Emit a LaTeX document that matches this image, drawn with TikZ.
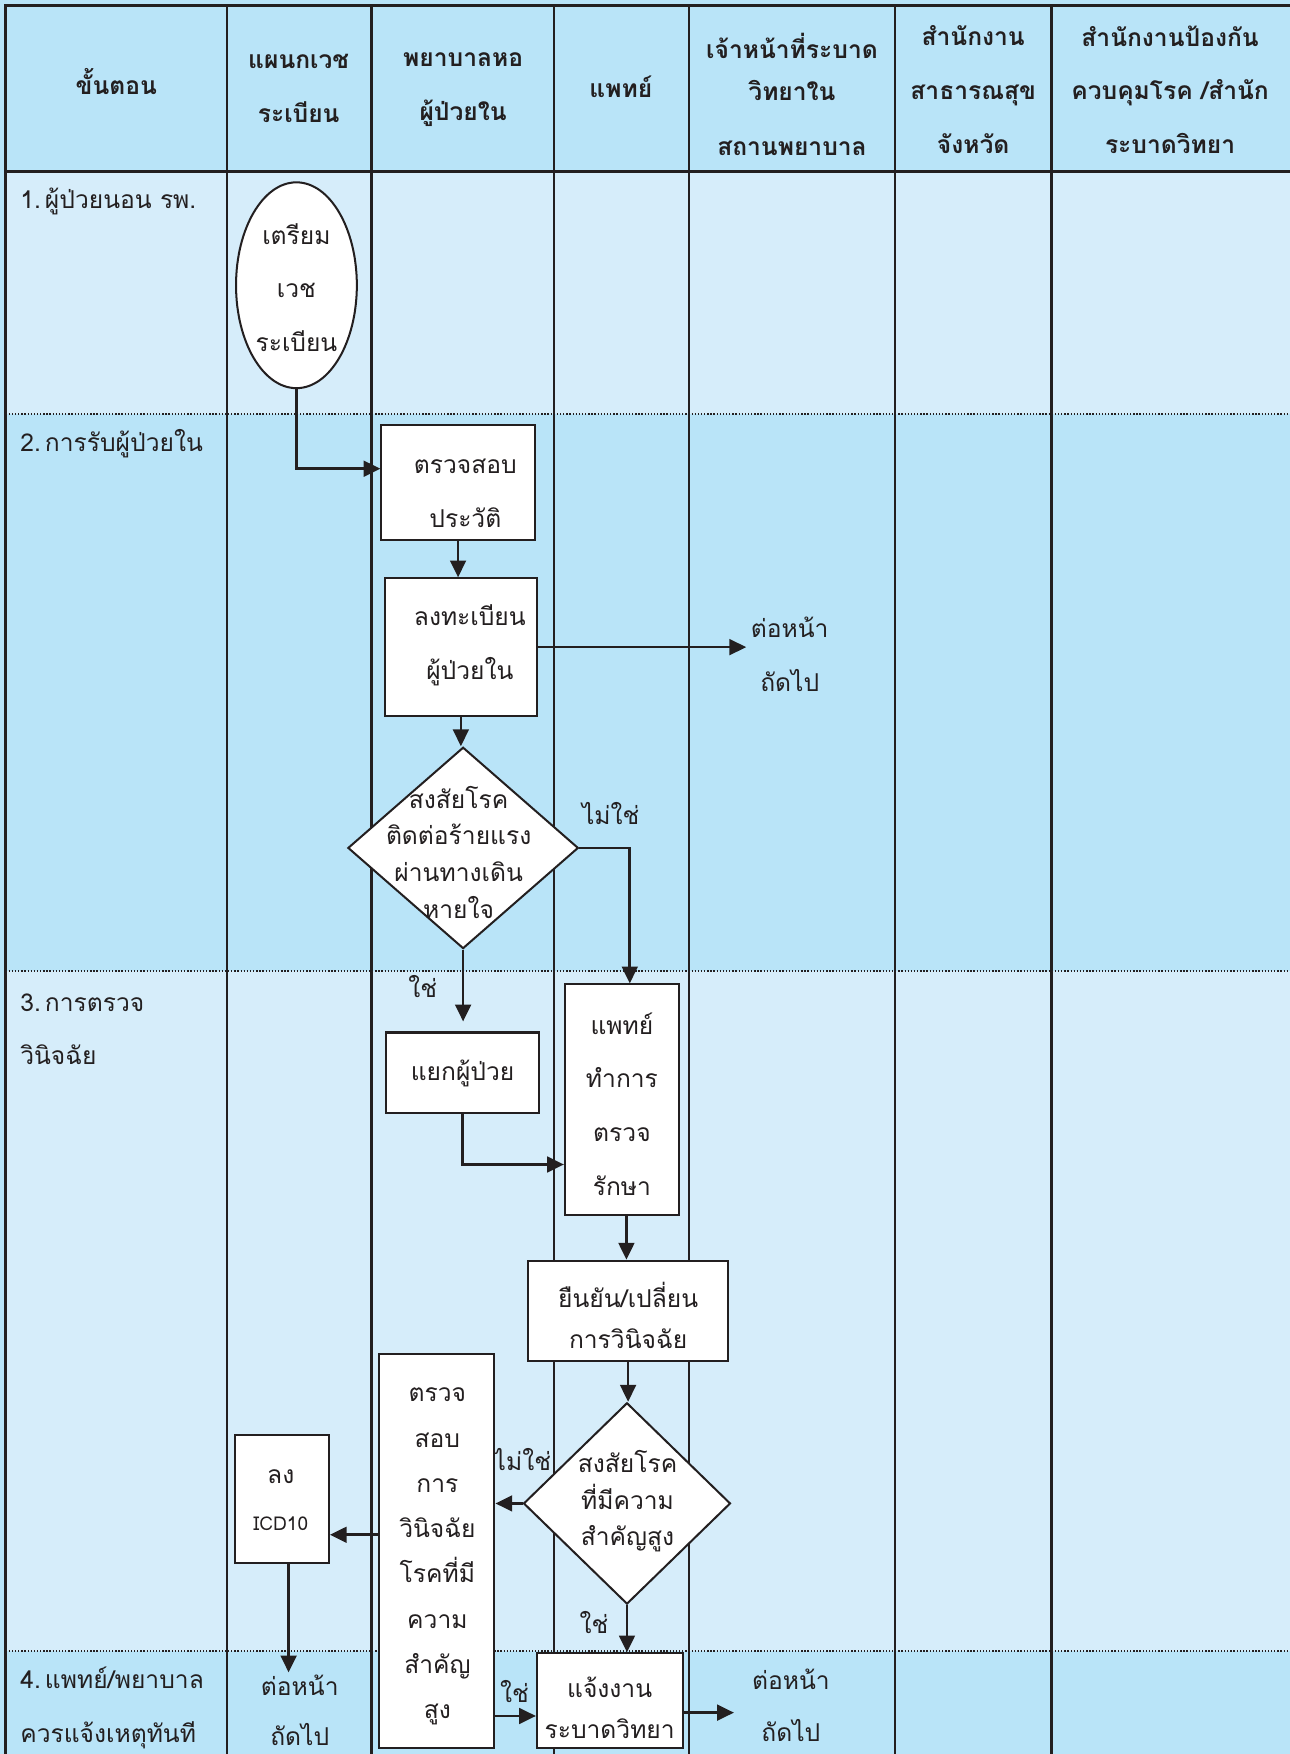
\documentclass[tikz,border=0pt]{standalone}
\usepackage{fontspec}
\setmainfont[Script=Thai]{Loma}
\usetikzlibrary{shapes.geometric,arrows.meta}
\definecolor{bgdark}{HTML}{B9E4F8}
\definecolor{bglight}{HTML}{D6EDFA}
\definecolor{ink}{HTML}{231F20}
\tikzset{
  gridline/.style={draw=ink, line width=2pt},
  rowsep/.style={draw=ink, line width=1.2pt, dash pattern=on 1.2pt off 1.6pt},
  txt/.style={text=ink, align=center, inner sep=2pt, font=\fontsize{22}{48}\selectfont},
  hdr/.style={txt, font=\bfseries\fontsize{22}{48}\selectfont},
  rowlbl/.style={text=ink, align=left, anchor=west, inner sep=0pt, font=\fontsize{22}{48}\selectfont},
  box/.style={draw=ink, fill=white, line width=1.8pt, inner sep=0pt, text=ink, align=center, font=\fontsize{22}{48}\selectfont},
  ell/.style={ellipse, draw=ink, fill=white, line width=1.8pt, inner sep=0pt, minimum width=108pt, minimum height=184pt},
  dia/.style={diamond, draw=ink, fill=white, line width=1.8pt, inner sep=0pt},
  arr/.style={draw=ink, line width=2.4pt, -{Triangle[length=15pt,width=14pt]}},
}
\begin{document}
\begin{tikzpicture}[x=1pt,y=-1pt]
\useasboundingbox (0,0) rectangle (1153,1568);
% backgrounds
\fill[bgdark] (0,0) rectangle (1153,1568);
\fill[bglight] (5,153) rectangle (1153,370);
\fill[bglight] (5,868) rectangle (1153,1476);
% row separators
\draw[rowsep] (5,370) -- (1153,370);
\draw[rowsep] (5,868) -- (1153,868);
\draw[rowsep] (5,1476) -- (1153,1476);
% grid
\draw[gridline] (5,1568) -- (5,5) -- (1153,5);
\draw[gridline, line width=3pt] (5,153.5) -- (1153,153.5);
\foreach \cx in {203,332,495,616,800,940} {\draw[gridline] (\cx,5) -- (\cx,1568);}
% headers
\node[hdr] (h0) at (104,73) {ขั้นตอน};
\node[hdr] (h1) at (267,79) {แผนกเวช\\ระเบียน};
\node[hdr] (h2) at (414,80) {พยาบาลหอ\\ผู้ป่วยใน};
\node[hdr] (h3) at (555,78) {แพทย์};
\node[hdr, font=\bfseries\fontsize{22}{38}\selectfont] (h4) at (708,84.5) {เจ้าหน้าที่ระบาด\\วิทยาใน\\[11pt]สถานพยาบาล};
\node[hdr] (h5) at (870,80) {สำนักงาน\\สาธารณสุข\\จังหวัด};
\node[hdr] (h6) at (1046,80) {สำนักงานป้องกัน\\ควบคุมโรค /สำนัก\\ระบาดวิทยา};
% row labels
\node[rowlbl] (r1) at (18,180) {1.\,ผู้ป่วยนอน รพ.};
\node[rowlbl] (r2) at (18,397) {2.\,การรับผู้ป่วยใน};
\node[rowlbl] (r3) at (18,920) {3.\,การตรวจ\\วินิจฉัย};
\node[rowlbl] (r4) at (18,1527) {4.\,แพทย์/พยาบาล\\ควรแจ้งเหตุทันที};
% coordinates for connector levels
\coordinate (y419) at (0,419);
\coordinate (y1041) at (0,1041);
\coordinate (y1372) at (0,1372);
\coordinate (y1534) at (0,1534);
\coordinate (y1531) at (0,1531);
% nodes
\node[ell] (ell) at (265,255) {};
\node[txt] (ellt) at (265,257) {เตรียม\\เวช\\ระเบียน};
\node[box, minimum width=137pt, minimum height=103pt] (b1) at (409.5,431.5) {};
\node[txt] (b1t) at (416,441) {ตรวจสอบ\\ประวัติ};
\node[box, minimum width=136pt, minimum height=123pt] (b2) at (412,578.5) {};
\node[txt] (b2t) at (420,577) {ลงทะเบียน\\ผู้ป่วยใน};
\node[txt, inner sep=4pt] (n1) at (706,585) {ต่อหน้า\\ถัดไป};
\node[dia, minimum width=206pt, minimum height=180pt] (d1) at (414,758) {};
\node[txt, font=\fontsize{22}{33}\selectfont] (d1t) at (410,762) {สงสัยโรค\\ติดต่อร้ายแรง\\ผ่านทางเดิน\\หายใจ};
\node[txt] (no1) at (546,727) {ไม่ใช่};
\node[txt] (yes1) at (378,882) {ใช่};
\node[box, minimum width=137pt, minimum height=72pt] (sep) at (413.5,959) {};
\node[txt] (sept) at (413.5,960) {แยกผู้ป่วย};
\node[box, minimum width=102pt, minimum height=206pt] (doc) at (556,983) {};
\node[txt] (doct) at (556,987) {แพทย์\\ทำการ\\ตรวจ\\รักษา};
\node[box, minimum width=179pt, minimum height=90pt] (conf) at (561.5,1172) {};
\node[txt, font=\fontsize{22}{37}\selectfont] (conft) at (561.5,1176) {ยืนยัน/เปลี่ยน\\การวินิจฉัย};
\node[dia, minimum width=185pt, minimum height=180pt] (d2) at (560.5,1344) {};
\node[txt, font=\fontsize{22}{33}\selectfont] (d2t) at (561,1342) {สงสัยโรค\\ที่มีความ\\สำคัญสูง};
\node[txt] (no2) at (467,1305) {ไม่ใช่};
\node[txt] (yes2) at (531,1450) {ใช่};
\node[box, minimum width=103pt, minimum height=353pt] (tall) at (390.5,1386.5) {};
\node[txt, font=\fontsize{22}{40.5}\selectfont] (tallt) at (391,1391.5) {ตรวจ\\สอบ\\การ\\วินิจฉัย\\โรคที่มี\\ความ\\สำคัญ\\สูง};
\node[box, minimum width=84pt, minimum height=114pt] (icd) at (252,1340) {};
\node[txt] (icdt1) at (251,1320) {ลง};
\node[txt, font=\fontsize{17}{20}\selectfont] (icdt2) at (251,1362) {ICD10};
\node[txt, font=\fontsize{22}{45}\selectfont] (n2) at (268,1529) {ต่อหน้า\\ถัดไป};
\node[txt] (yes3) at (460,1512) {ใช่};
\node[box, minimum width=131pt, minimum height=85pt] (alert) at (545.5,1520.5) {};
\node[txt, font=\fontsize{22}{37}\selectfont] (alertt) at (545,1526.5) {แจ้งงาน\\ระบาดวิทยา};
\node[txt, font=\fontsize{22}{47}\selectfont] (n3) at (707,1524.5) {ต่อหน้า\\ถัดไป};
% connectors
\draw[arr] (ell.south) |- (b1.west |- y419);
\draw[arr] (b1.south) -- (b1.south |- b2.north);
\draw[arr] (b2.east) -- (b2.east -| n1.west);
\draw[arr] (b2.south) -- (b2.south |- d1.north);
\draw[arr] (d1.east) -| ([xshift=7pt]doc.north);
\draw[arr, shorten >=9pt] (d1.south) -- (d1.south |- sep.north);
\draw[arr] (sep.south) |- (doc.west |- y1041);
\draw[arr] ([xshift=4pt]doc.south) -- ([xshift=4pt]doc.south |- conf.north);
\draw[arr] (conf.south) -- (conf.south |- d2.north);
\draw[arr] (d2.west) -- (d2.west -| tall.east);
\draw[arr] (tall.west |- y1372) -- (icd.east |- y1372);
\draw[arr] ([xshift=6pt]icd.south) -- ([xshift=6pt]icd.south |- n2.north);
\draw[arr] (d2.south) -- (d2.south |- alert.north);
\draw[arr] (tall.east |- y1534) -- (alert.west |- y1534);
\draw[arr] (alert.east |- y1531) -- ([xshift=-14pt]n3.west |- y1531);
\end{tikzpicture}
\end{document}
